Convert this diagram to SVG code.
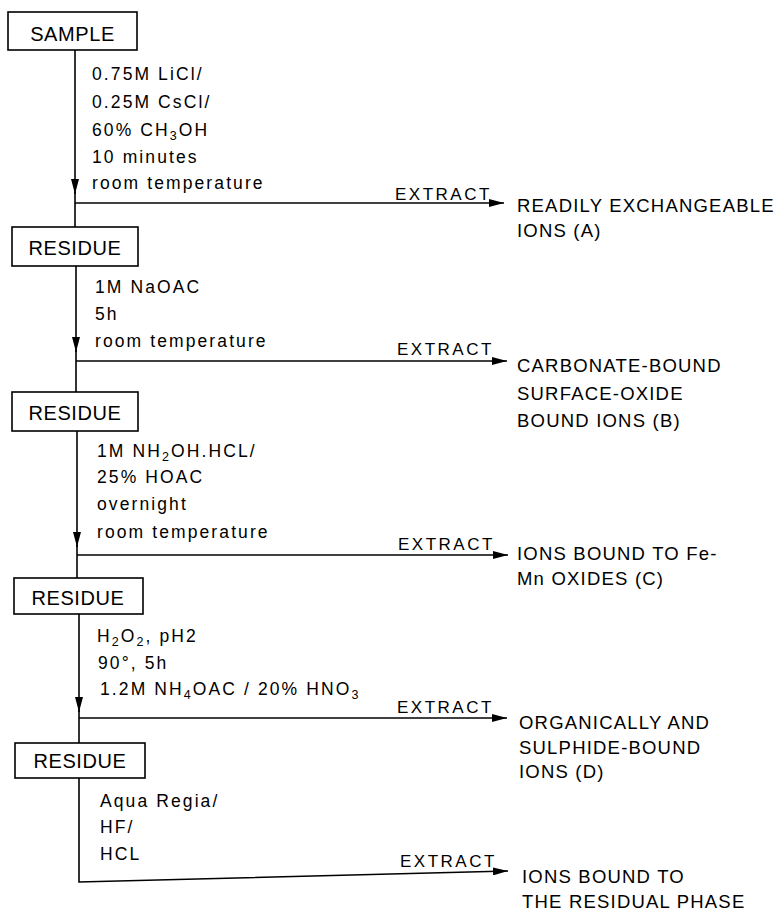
<svg xmlns="http://www.w3.org/2000/svg" width="784" height="912" viewBox="0 0 784 912">
<defs>
<style>
text{font-family:"Liberation Sans",Arial,Helvetica,sans-serif;fill:#000}
.box{fill:#fff;stroke:#000;stroke-width:1.6}
.lbl{font-size:20px;letter-spacing:0.6px;text-anchor:middle}
.rg{font-size:17.5px;letter-spacing:2.1px}
.ex{font-size:17px;letter-spacing:2.5px}
.out{font-size:18.5px;letter-spacing:1.2px}
.ln{fill:none;stroke:#000;stroke-width:1.6}
.sub{font-size:12.5px}
</style>
<marker id="ah" markerUnits="userSpaceOnUse" markerWidth="16" markerHeight="8" refX="15" refY="4" orient="auto">
<path d="M0,0 L15,4 L0,8 z" fill="#000"/>
</marker>
</defs>
<rect width="784" height="912" fill="#fff"/>

<g id="connectors">
<path class="ln" d="M75,50 V194" marker-end="url(#ah)"/>
<path class="ln" d="M75,192 V227"/>
<path class="ln" d="M75,203 H504" marker-end="url(#ah)"/>

<path class="ln" d="M76,266 V352" marker-end="url(#ah)"/>
<path class="ln" d="M76,350 V392"/>
<path class="ln" d="M76,361 H507" marker-end="url(#ah)"/>

<path class="ln" d="M77,431 V547" marker-end="url(#ah)"/>
<path class="ln" d="M77,545 V578"/>
<path class="ln" d="M77,555 H508" marker-end="url(#ah)"/>

<path class="ln" d="M79,614 V712" marker-end="url(#ah)"/>
<path class="ln" d="M79,710 V743"/>
<path class="ln" d="M79,718 H507" marker-end="url(#ah)"/>

<path class="ln" d="M79,778 V882 L508,871" marker-end="url(#ah)"/>

<text class="ex" x="395" y="200">EXTRACT</text>
<text class="ex" x="397" y="355">EXTRACT</text>
<text class="ex" x="398" y="550">EXTRACT</text>
<text class="ex" x="397" y="713">EXTRACT</text>
<text class="ex" x="400" y="867">EXTRACT</text>

<g id="reagents-1">
<text class="rg" x="92" y="80">0.75M LiCl/</text>
<text class="rg" x="92" y="108">0.25M CsCl/</text>
<text class="rg" x="92" y="136">60% CH<tspan class="sub" dy="4">3</tspan><tspan dy="-4">OH</tspan></text>
<text class="rg" x="92" y="163">10 minutes</text>
<text class="rg" x="92" y="189">room temperature</text>
</g>
<g id="reagents-2">
<text class="rg" x="95" y="293">1M NaOAC</text>
<text class="rg" x="95" y="320">5h</text>
<text class="rg" x="95" y="347">room temperature</text>
</g>
<g id="reagents-3">
<text class="rg" x="97" y="457">1M NH<tspan class="sub" dy="4">2</tspan><tspan dy="-4">OH.HCL/</tspan></text>
<text class="rg" x="97" y="483">25% HOAC</text>
<text class="rg" x="97" y="510">overnight</text>
<text class="rg" x="97" y="538">room temperature</text>
</g>
<g id="reagents-4">
<text class="rg" x="97" y="642">H<tspan class="sub" dy="4">2</tspan><tspan dy="-4">O</tspan><tspan class="sub" dy="4">2</tspan><tspan dy="-4">, pH2</tspan></text>
<text class="rg" x="98" y="669">90°, 5h</text>
<text class="rg" x="100" y="695">1.2M NH<tspan class="sub" dy="4">4</tspan><tspan dy="-4">OAC / 20% HNO</tspan><tspan class="sub" dy="4">3</tspan></text>
</g>
<g id="reagents-5">
<text class="rg" x="100" y="807">Aqua Regia/</text>
<text class="rg" x="100" y="833">HF/</text>
<text class="rg" x="100" y="860">HCL</text>
</g>
</g>

<g id="sample">
<rect class="box" x="8" y="12" width="129" height="38"/>
<text class="lbl" x="72.5" y="41">SAMPLE</text>
</g>
<g id="residue-1">
<rect class="box" x="12" y="227" width="126" height="39"/>
<text class="lbl" x="75" y="255">RESIDUE</text>
</g>
<g id="residue-2">
<rect class="box" x="12" y="392" width="126" height="39"/>
<text class="lbl" x="75" y="420">RESIDUE</text>
</g>
<g id="residue-3">
<rect class="box" x="14" y="578" width="129" height="36"/>
<text class="lbl" x="78" y="605">RESIDUE</text>
</g>
<g id="residue-4">
<rect class="box" x="15" y="743" width="130" height="35"/>
<text class="lbl" x="80" y="768">RESIDUE</text>
</g>

<g id="fraction-a">
<text class="out" x="517" y="212">READILY EXCHANGEABLE</text>
<text class="out" x="517" y="237">IONS (A)</text>
</g>
<g id="fraction-b">
<text class="out" x="517" y="372">CARBONATE-BOUND</text>
<text class="out" x="517" y="400">SURFACE-OXIDE</text>
<text class="out" x="517" y="427">BOUND IONS (B)</text>
</g>
<g id="fraction-c">
<text class="out" x="517" y="560">IONS BOUND TO Fe-</text>
<text class="out" x="517" y="585">Mn OXIDES (C)</text>
</g>
<g id="fraction-d">
<text class="out" x="519" y="729">ORGANICALLY AND</text>
<text class="out" x="519" y="754">SULPHIDE-BOUND</text>
<text class="out" x="519" y="778">IONS (D)</text>
</g>
<g id="fraction-e">
<text class="out" x="522" y="883">IONS BOUND TO</text>
<text class="out" x="522" y="908">THE RESIDUAL PHASE</text>
</g>
</svg>
